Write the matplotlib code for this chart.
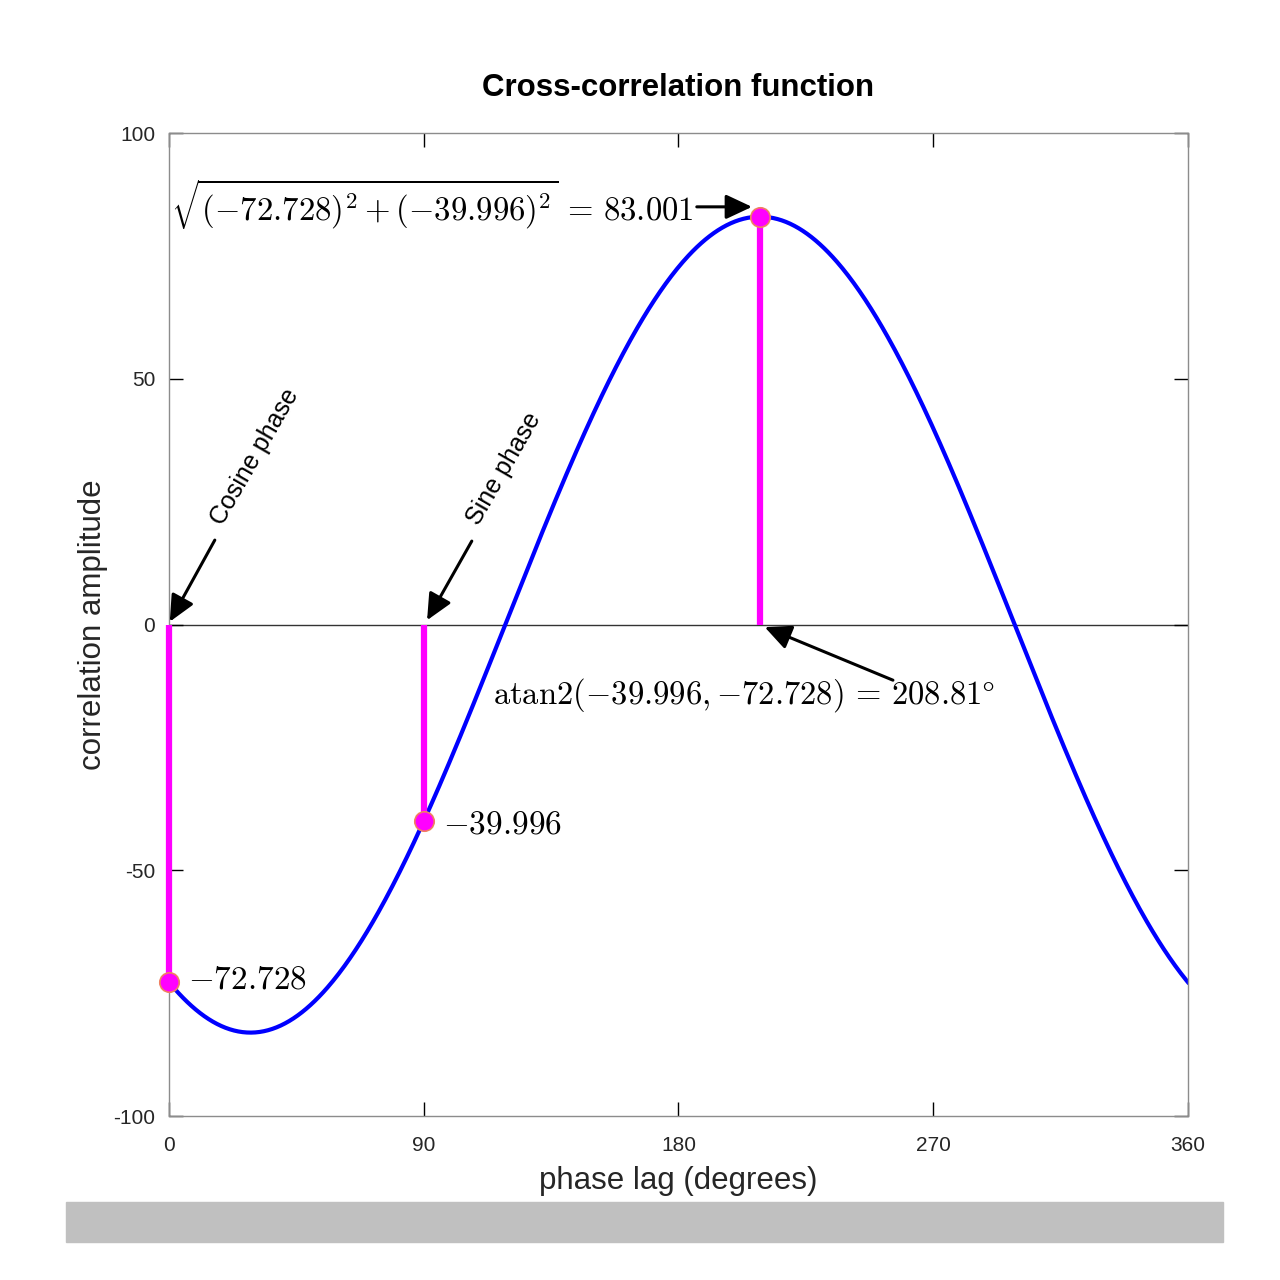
import numpy as np
import matplotlib
matplotlib.use("Agg")
import matplotlib.pyplot as plt
from matplotlib.patches import Rectangle

# values
cos_part = -72.728          # correlation at 0 deg (cosine phase)
sin_part = -39.996          # correlation at 90 deg (sine phase)
amp = 83.001                # magnitude
peak_lag = 208.81           # atan2 angle in degrees

x_ticks = [0, 90, 180, 270, 360]
y_ticks = [-100, -50, 0, 50, 100]

# cross-correlation curve built from the two components
lag = np.linspace(0, 360, 721)
corr = cos_part * np.cos(np.deg2rad(lag)) + sin_part * np.sin(np.deg2rad(lag))

plt.rcParams['font.family'] = ['Liberation Sans', 'DejaVu Sans']
plt.rcParams['mathtext.fontset'] = 'cm'
plt.rcParams['axes.unicode_minus'] = False

fig = plt.figure(figsize=(12.8, 12.8), dpi=100)
ax = fig.add_axes([0.132, 0.128, 0.796, 0.768])

txt = '#262626'
ax.axhline(0, color='#333333', lw=1.0, zorder=1)
ax.plot(lag, corr, color='#0000ff', lw=3.0, zorder=2)

# stems + dots at the three special points
for xs, ys in [(0, cos_part), (90, sin_part), (peak_lag, amp)]:
    ax.plot([xs, xs], [0, ys], color='#ff00ff', lw=4.5, zorder=3,
            solid_capstyle='butt', clip_on=False)
ax.plot([0, 90, peak_lag], [cos_part, sin_part, amp], 'o', ms=14,
        mfc='#ff00ff', mec='#f08060', mew=1.2, zorder=4, clip_on=False)

ax.set_xlim(0, 360)
ax.set_ylim(-100, 100)
ax.set_xticks(x_ticks)
ax.set_yticks(y_ticks)
ax.tick_params(direction='in', length=10, width=1, color='black',
               top=True, right=True, labelsize=15, labelcolor=txt)
ax.tick_params(axis='x', pad=14)
ax.tick_params(axis='y', pad=10)
for s in ax.spines.values():
    s.set_color('#8c8c8c')
    s.set_linewidth(1)

ax.set_title('Cross-correlation function', fontsize=22.5, fontweight='bold',
             color='black', pad=27)
ax.set_xlabel('phase lag (degrees)', fontsize=22.5, color=txt, labelpad=8)
ax.set_ylabel('correlation amplitude', fontsize=22.5, color=txt, labelpad=4)

arrow = dict(arrowstyle='-|>,head_length=1.6,head_width=0.75', color='black',
             lw=2.2, shrinkA=0, shrinkB=0)

# magnitude label
ax.annotate('', xy=(206, 85), xytext=(186.5, 85), arrowprops=arrow)
ax.text(0.8, 85.4, r'$\sqrt{(-72.728)^2+(-39.996)^2}\,=\,83.001$',
        fontsize=23.6, ha='left', va='center', color='black')

# phase labels
ax.annotate('', xy=(0.3, 0.6), xytext=(16.2, 17.2), arrowprops=arrow)
ax.text(20.5, 19.5, 'Cosine phase', rotation=60, rotation_mode='anchor',
        ha='left', va='bottom', fontsize=18, color='black')
ax.annotate('', xy=(91.2, 0.9), xytext=(107.0, 17.0), arrowprops=arrow)
ax.text(111.0, 19.5, 'Sine phase', rotation=60, rotation_mode='anchor',
        ha='left', va='bottom', fontsize=18, color='black')

# angle label
ax.annotate('', xy=(210.5, -0.5), xytext=(255.8, -11.3), arrowprops=arrow)
ax.text(114.5, -14.3, r'$\mathrm{atan2}(-39.996,{-}72.728)\,=\,208.81\degree$',
        fontsize=23.5, ha='left', va='center', color='black')

# component labels
ax.text(97.0, -40.8, r'$-39.996$', fontsize=24, ha='left', va='center')
ax.text(6.8, -72.3, r'$-72.728$', fontsize=24, ha='left', va='center')

# grey strip under the axes
fig.patches.append(Rectangle((66 / 1280, 1 - 1242 / 1280), 1157 / 1280, 40 / 1280,
                             transform=fig.transFigure, color='#c0c0c0', zorder=0))

fig.savefig('out.png', dpi=100, facecolor='white')
